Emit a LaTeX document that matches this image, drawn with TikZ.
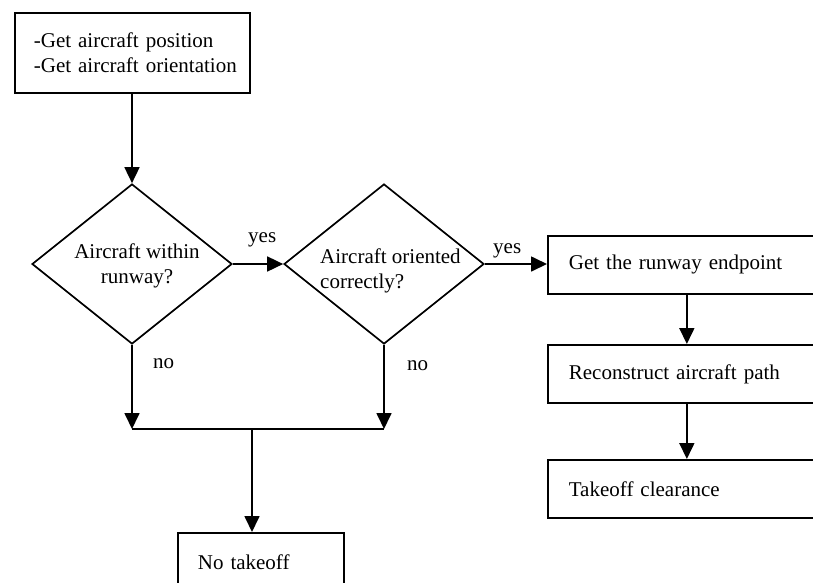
\documentclass[tikz,border=0pt]{standalone}
\usepackage{fontspec}
\setmainfont{Liberation Serif}
\usetikzlibrary{shapes.geometric,arrows.meta}
\begin{document}
\begin{tikzpicture}[x=1pt,y=-1pt,
  every node/.style={font=\fontsize{21}{24.5}\selectfont},
  line/.style={line width=1.7pt},
  arr/.style={line, -{Triangle[length=16pt,width=15pt]}},
  box/.style={draw, line width=1.7pt, anchor=north west, align=left,
              minimum height=58pt, inner ysep=0pt},
  decision/.style={draw, line width=1.7pt, shape=diamond, inner sep=0pt,
                   minimum width=200pt, minimum height=160pt},
  lbl/.style={inner sep=0pt, anchor=base west}]
\useasboundingbox (0,0) rectangle (813,582);
\clip (0,0) rectangle (813,582);

% process boxes
\node[box, minimum height=80pt, inner xsep=19pt, text width=197pt] (start) at (14,12)
  {\mbox{-Get aircraft position}\\\mbox{-Get aircraft orientation}};
\node[box, inner xsep=21pt, text width=236pt] (endpt) at (547,235) {Get the runway endpoint};
\node[box, inner xsep=21pt, text width=236pt] (path) at (547,344) {Reconstruct aircraft path};
\node[box, inner xsep=21pt, text width=236pt] (clear) at (547,459) {Takeoff clearance};
\node[box, inner xsep=20pt, text width=126pt] (nogo) at (177,532) {No takeoff};

% decisions
\node[decision] (within) at (132,264) {};
\node[decision] (orient) at (384,264) {};
\node[align=center, inner sep=0pt] (withinT) at (137,266) {Aircraft within\\runway?};
\node[align=left, inner sep=0pt, anchor=west] (orientT) at (320,271) {Aircraft oriented\\correctly?};

% branch labels
\node[lbl] (yes1) at (248,242) {yes};
\node[lbl] (yes2) at (493,253) {yes};
\node[lbl] (no1) at (153,368) {no};
\node[lbl] (no2) at (407,370) {no};

% junction of the two "no" branches
\coordinate (jl) at (128,429);
\coordinate (jr) at (386,429);
\coordinate (jm) at (252,429);

% connectors
\draw[arr] (start.south -| within.north) -- (within.north);
\draw[arr] (within.east) -- (orient.west);
\draw[arr] (orient.east) -- (orient.east -| endpt.west);
\draw[arr] (endpt.south) -- (path.north);
\draw[arr] (path.south) -- (clear.north);
\draw[arr] (within.south) -- (within.south |- jl);
\draw[arr] (orient.south) -- (orient.south |- jr);
\draw[line] (within.south |- jl) -- (orient.south |- jr);
\draw[arr] (jm) -- (jm |- nogo.north);
\end{tikzpicture}
\end{document}
